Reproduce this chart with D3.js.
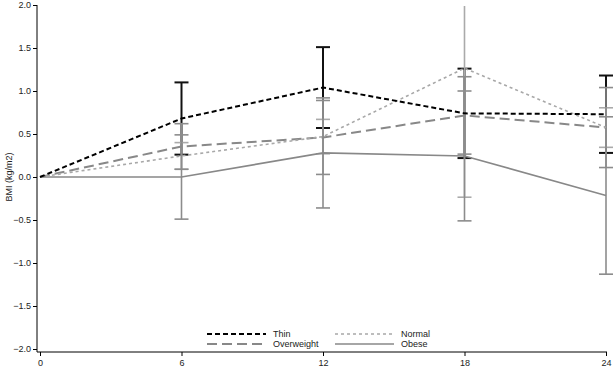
<!DOCTYPE html>
<html>
<head>
<meta charset="utf-8">
<script src="https://cdn.jsdelivr.net/npm/d3@7"></script>
<style>
  body { margin: 0; background: #fff; }
  svg { display: block; font-family: "Liberation Sans", Arial, sans-serif; }
  .axis text { font-size: 9px; fill: #222; }
  .axis line, .axis path { stroke: #000; }
</style>
</head>
<body>
<div id="chart"></div>
<script>
// months since start
const months = [0, 6, 12, 18, 24];
const yTicks = [-2.0, -1.5, -1.0, -0.5, 0.0, 0.5, 1.0, 1.5, 2.0];

// mean change in BMI and half-width of error bar per group
const thin = [0, 0.68, 1.04, 0.74, 0.73];
const thinErr = [0, 0.42, 0.47, 0.52, 0.45];
const normal = [0, 0.245, 0.47, 1.265, 0.575];
const normalErr = [0, 0.155, 0.2, 1.5, 0.23];
const overweight = [0, 0.355, 0.46, 0.716, 0.575];
const overweightErr = [0, 0.265, 0.43, 0.45, 0.465];
const obese = [0, 0, 0.28, 0.245, -0.215];
const obeseErr = [0, 0.49, 0.64, 0.755, 0.915];

const groups = [
  { name: "Thin", mean: thin, err: thinErr, color: "#000", barColor: "#111", dash: "5,3", width: 2 },
  { name: "Normal", mean: normal, err: normalErr, color: "#a8a8a8", barColor: "#aaa", dash: "3,3", width: 1.6 },
  { name: "Overweight", mean: overweight, err: overweightErr, color: "#888", barColor: "#8c8c8c", dash: "10,5", width: 2 },
  { name: "Obese", mean: obese, err: obeseErr, color: "#888", barColor: "#8c8c8c", dash: null, width: 1.6 }
];

const width = 614, height = 369;
const svg = d3.select("#chart").append("svg")
  .attr("width", width).attr("height", height);

const x = d3.scaleLinear().domain([0, 24]).range([40, 606]);
const y = d3.scaleLinear().domain([-2, 2]).range([349, 5]);
const axisY = 352, axisX = 37;

svg.append("defs").append("clipPath").attr("id", "plot")
  .append("rect").attr("x", 0).attr("y", y(2) + 1).attr("width", width).attr("height", y(-2) - y(2));

// y axis
const yAxisG = svg.append("g").attr("class", "axis")
  .attr("transform", `translate(${axisX},0)`)
  .call(d3.axisLeft(y).tickValues(yTicks).tickFormat(d3.format(".1f")).tickSize(4).tickSizeOuter(0));
yAxisG.select(".domain").remove();
yAxisG.append("line").attr("x1", 0).attr("x2", 0).attr("y1", y(2)).attr("y2", axisY).attr("stroke", "#000");
yAxisG.selectAll(".tick text").attr("x", -6);

svg.append("text")
  .attr("transform", `translate(9,${y(0)}) rotate(-90)`)
  .attr("text-anchor", "middle")
  .attr("dy", "0.35em")
  .style("font-size", "9px").style("fill", "#222")
  .text("BMI (kg/m2)");

// x axis
const xAxisG = svg.append("g").attr("class", "axis")
  .attr("transform", `translate(0,${axisY})`)
  .call(d3.axisBottom(x).tickValues(months).tickSize(4).tickSizeOuter(0));
xAxisG.select(".domain").remove();
xAxisG.append("line").attr("x1", axisX).attr("x2", x(24) + 1).attr("y1", 0).attr("y2", 0).attr("stroke", "#000");
xAxisG.selectAll(".tick text").attr("y", 8);

const plot = svg.append("g").attr("clip-path", "url(#plot)");

// error bars (thin first so the grey bars sit over it)
const capW = 7;
groups.forEach(g => {
  const pts = months.map((m, i) => ({ m, v: g.mean[i], e: g.err[i] })).filter(d => d.e > 0);
  const eb = plot.append("g").attr("stroke", g.barColor).attr("stroke-width", g.name === "Thin" ? 2 : 1.6);
  eb.selectAll(".stem").data(pts).enter().append("line")
    .attr("x1", d => x(d.m)).attr("x2", d => x(d.m))
    .attr("y1", d => y(d.v + d.e)).attr("y2", d => y(d.v - d.e));
  eb.selectAll(".capTop").data(pts).enter().append("line")
    .attr("x1", d => x(d.m) - capW).attr("x2", d => x(d.m) + capW)
    .attr("y1", d => y(d.v + d.e)).attr("y2", d => y(d.v + d.e));
  eb.selectAll(".capBot").data(pts).enter().append("line")
    .attr("x1", d => x(d.m) - capW).attr("x2", d => x(d.m) + capW)
    .attr("y1", d => y(d.v - d.e)).attr("y2", d => y(d.v - d.e));
});

// mean lines
const line = d3.line().x(d => x(d.m)).y(d => y(d.v));
groups.slice().reverse().forEach(g => {
  plot.append("path")
    .datum(months.map((m, i) => ({ m, v: g.mean[i] })))
    .attr("d", line)
    .attr("fill", "none")
    .attr("stroke", g.color)
    .attr("stroke-width", g.width)
    .attr("stroke-dasharray", g.dash);
});

// legend
const legend = svg.append("g");
const legX = [207, 335], legY = [334, 344], sampleLen = 59;
groups.forEach((g, i) => {
  const col = i % 2, row = Math.floor(i / 2);
  const lx = legX[col], ly = legY[row];
  legend.append("line")
    .attr("x1", lx).attr("x2", lx + sampleLen).attr("y1", ly).attr("y2", ly)
    .attr("stroke", g.color).attr("stroke-width", g.width)
    .attr("stroke-dasharray", g.dash);
  legend.append("text")
    .attr("x", lx + sampleLen + 7).attr("y", ly).attr("dy", "0.35em")
    .style("font-size", "9px").style("fill", "#222")
    .text(g.name);
});
</script>
</body>
</html>
